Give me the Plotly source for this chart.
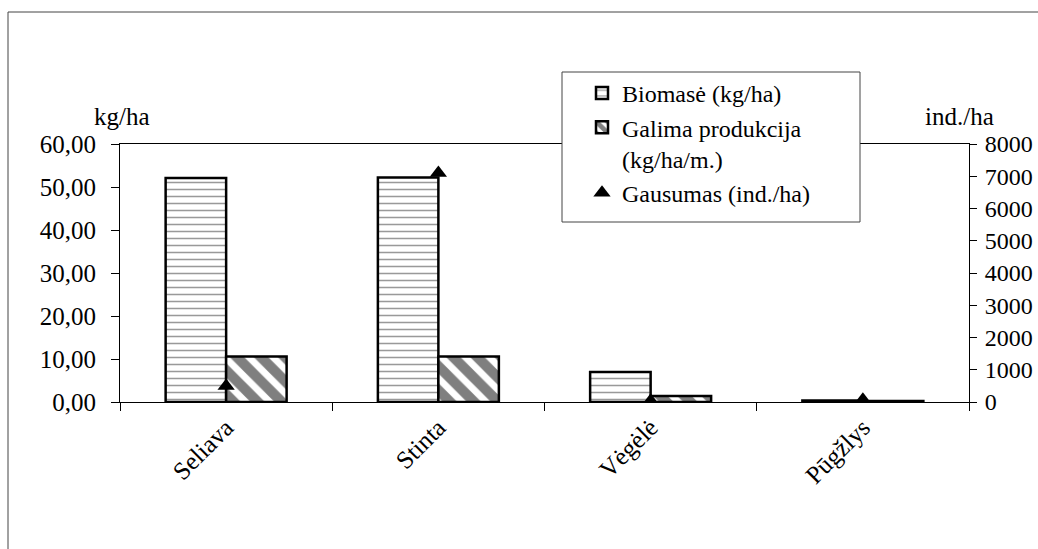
import plotly.graph_objects as go

categories = ["Seliava", "Stinta", "Vėgėlė", "Pūgžlys"]
biomase = [52.1, 52.2, 7.0, 0.35]
produkcija = [10.6, 10.6, 1.4, 0.25]
gausumas = [500, 7100, 40, 70]
left_ticks = [0, 10, 20, 30, 40, 50, 60]
right_ticks = [0, 1000, 2000, 3000, 4000, 5000, 6000, 7000, 8000]

FONT = "Liberation Serif"
FS = 25
W, H = 1038, 549
L, R, T, B = 120, 69, 144, 147
pw, ph = W - L - R, H - T - B

fig = go.Figure()
fig.add_trace(go.Bar(
    x=categories, y=biomase, name="Biomasė (kg/ha)",
    marker=dict(color="white", line=dict(color="black", width=2.5),
                pattern=dict(shape="-", fgcolor="#333", bgcolor="white", size=7, solidity=0.22)),
    legendgroup="a",
))
fig.add_trace(go.Bar(
    x=categories, y=produkcija, name="Galima produkcija<br>(kg/ha/m.)",
    marker=dict(color="white", line=dict(color="black", width=2.5),
                pattern=dict(shape="\\", fgcolor="black", bgcolor="white", size=17, solidity=0.6)),
    legendgroup="b",
))
fig.add_trace(go.Scatter(
    x=categories, y=gausumas, name="Gausumas (ind./ha)", yaxis="y2",
    mode="markers", marker=dict(symbol="triangle-up", size=15, color="black"),
    legendgroup="c",
))

def px_x(p):
    return (p - L) / pw

def px_y(p):
    return (H - B - p) / ph

fig.update_layout(
    width=W, height=H,
    margin=dict(l=L, r=R, t=T, b=B, autoexpand=False),
    paper_bgcolor="white", plot_bgcolor="white",
    font=dict(family=FONT, size=FS, color="black"),
    separators=", ",
    barmode="group", bargap=0.43, bargroupgap=0,
    showlegend=True,
    legend=dict(x=px_x(582), y=px_y(71), xanchor="left", yanchor="top",
                borderwidth=0, bgcolor="rgba(0,0,0,0)", valign="top",
                font=dict(family=FONT, size=24), tracegroupgap=0,
                itemwidth=30),
    xaxis=dict(showline=True, linecolor="black", linewidth=1, mirror=True,
               ticks="outside", tickson="boundaries", ticklen=8, tickcolor="black",
               tickangle=-45, showgrid=False, tickfont=dict(size=FS), automargin=False),
    yaxis=dict(range=[0, 60], tickvals=left_ticks, tickformat=".2f",
               showline=True, linecolor="black", linewidth=1,
               ticks="outside", ticklen=8, tickcolor="black", ticklabelstandoff=10,
               showgrid=False, zeroline=False, tickfont=dict(size=FS), automargin=False),
    yaxis2=dict(range=[0, 8000], tickvals=right_ticks, overlaying="y", side="right",
                showline=True, linecolor="black", linewidth=1,
                ticks="outside", ticklen=7, tickcolor="black", ticklabelstandoff=3,
                showgrid=False, zeroline=False, tickfont=dict(size=24), automargin=False),
    annotations=[
        dict(text="kg/ha", xref="paper", yref="paper", x=px_x(92), y=px_y(101),
             showarrow=False, font=dict(family=FONT, size=FS)),
        dict(text="ind./ha", xref="paper", yref="paper", x=px_x(996), y=px_y(101),
             showarrow=False, font=dict(family=FONT, size=FS)),
    ],
    shapes=[
        dict(type="rect", xref="paper", yref="paper",
             x0=px_x(8), x1=px_x(1100), y0=px_y(600), y1=px_y(12),
             line=dict(color="#444", width=1), fillcolor="rgba(0,0,0,0)", layer="below"),
        dict(type="rect", xref="paper", yref="paper",
             x0=px_x(562), x1=px_x(860), y0=px_y(222), y1=px_y(72),
             line=dict(color="#444", width=1), fillcolor="white", layer="above"),
    ],
)

fig.write_html("out.html", config={"displayModeBar": False},
               post_script="document.body.style.margin='0';")
